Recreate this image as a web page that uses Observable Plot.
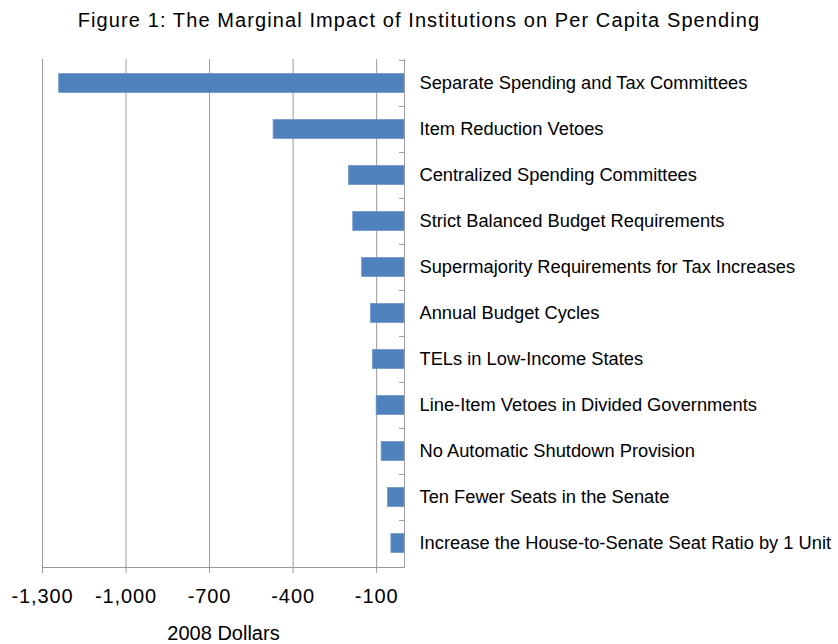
<!DOCTYPE html>
<html><head><meta charset="utf-8">
<script src="https://cdn.jsdelivr.net/npm/d3@7"></script>
<script src="https://cdn.jsdelivr.net/npm/@observablehq/plot@0.6"></script>
<style>
body{margin:0;background:#fff;font-family:"Liberation Sans",Arial,sans-serif;}
#title{width:838px;height:36px;text-align:center;font-size:20px;letter-spacing:1.1px;line-height:36px;padding-top:2px;box-sizing:border-box;color:#000;}
svg [aria-label="x-axis tick label"] text{letter-spacing:0.9px;}
</style></head><body>
<div id="title">Figure 1: The Marginal Impact of Institutions on Per Capita Spending</div>
<div id="chart"></div>
<script>
const categories = [
  "Separate Spending and Tax Committees",
  "Item Reduction Vetoes",
  "Centralized Spending Committees",
  "Strict Balanced Budget Requirements",
  "Supermajority Requirements for Tax Increases",
  "Annual Budget Cycles",
  "TELs in Low-Income States",
  "Line-Item Vetoes in Divided Governments",
  "No Automatic Shutdown Provision",
  "Ten Fewer Seats in the Senate",
  "Increase the House-to-Senate Seat Ratio by 1 Unit"
];
const values = [-1240, -470, -199, -184, -152, -120, -113, -100, -82, -59, -47];
const xTicks = [-1300, -1000, -700, -400, -100];
const xDomain = [-1300, 0];
const xLabel = "2008 Dollars";

const data = categories.map((c, i) => ({category: c, value: values[i]}));
const W = 838, H = 608, mT = 23, mB = 77, mL = 42, mR = 434;
const step = (H - mT - mB) / categories.length;
const barH = 19;
const gray = "#9a9a9a";

const chart = Plot.plot({
  width: W, height: H,
  marginTop: mT, marginBottom: mB, marginLeft: mL, marginRight: mR,
  style: {fontFamily: '"Liberation Sans", Arial, sans-serif', background: "white", color: "black", overflow: "visible"},
  x: {domain: xDomain, axis: null},
  y: {domain: categories, padding: 0, axis: null},
  marks: [
    Plot.gridX(xTicks, {stroke: gray, strokeOpacity: 1}),
    Plot.barX(data, {y: "category", x: "value", fill: "#4F81BD", stroke: "#6d96c8", strokeWidth: 0.8,
      insetTop: (step - barH) / 2, insetBottom: (step - barH) / 2}),
    Plot.ruleX([0], {stroke: gray}),
    Plot.ruleY(categories, {y: d => d, x1: -18, x2: 0, dy: -step / 2, stroke: gray}),
    Plot.frame({anchor: "bottom", stroke: gray}),
    Plot.axisX(xTicks, {tickSize: 6, tickPadding: 15, fontSize: 20, stroke: gray, fill: "black",
      tickFormat: d => d.toLocaleString("en-US"), label: null}),
    Plot.axisY({anchor: "right", tickSize: 0, tickPadding: 15, fontSize: 18.3, fill: "black", label: null}),
    Plot.text([xLabel], {frameAnchor: "bottom", dy: 66, lineAnchor: "middle", fontSize: 20, fill: "black"})
  ]
});
document.getElementById("chart").appendChild(chart);
</script>
</body></html>
